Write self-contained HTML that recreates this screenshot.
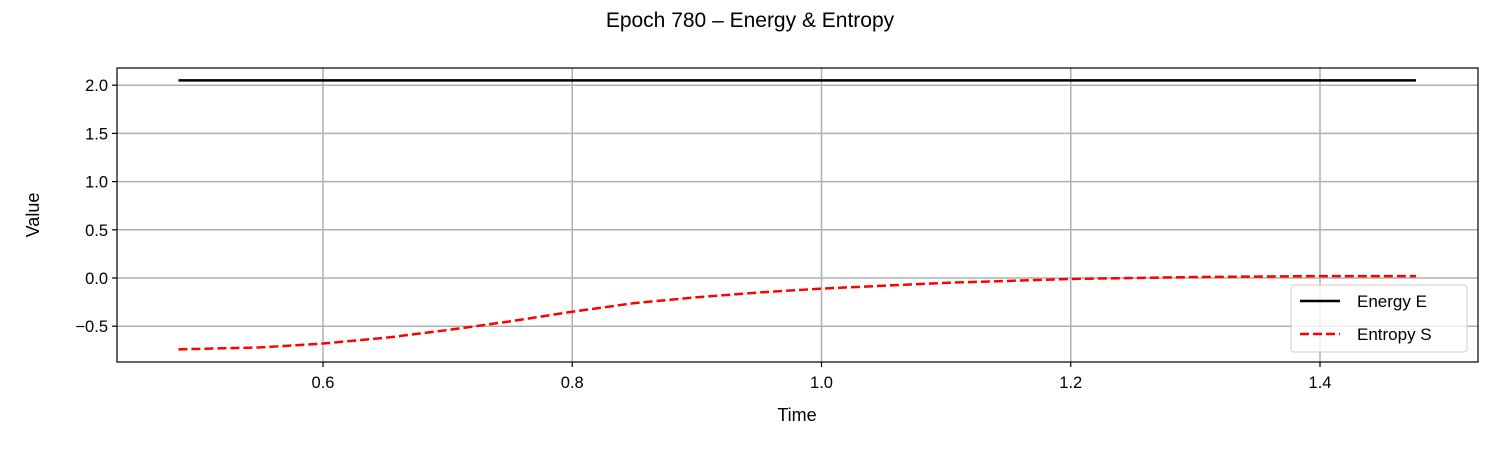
<!DOCTYPE html>
<html><head><meta charset="utf-8"><style>body{margin:0;background:#fff}svg{display:block;font-family:"Liberation Sans","DejaVu Sans",sans-serif}</style></head>
<body>
<svg id="c" width="1500" height="450"></svg>
<script>
const times=[0.484,0.55,0.6,0.65,0.7,0.75,0.8,0.85,0.9,0.95,1.0,1.1,1.2,1.3,1.4,1.477];
const energy=[2.05,2.05,2.05,2.05,2.05,2.05,2.05,2.05,2.05,2.05,2.05,2.05,2.05,2.05,2.05,2.05];
const entropy=[-0.74,-0.72,-0.68,-0.62,-0.54,-0.45,-0.35,-0.26,-0.20,-0.15,-0.11,-0.05,-0.01,0.01,0.02,0.02];
const xTicks=[0.6,0.8,1.0,1.2,1.4];
const yTicks=[-0.5,0.0,0.5,1.0,1.5,2.0];
const L=117,R=1478,T=68,B=362;
const sx=t=>323+(t-0.6)*1246.25;
const sy=v=>278-v*96.4;
const svg=document.getElementById('c');
const NS='http://www.w3.org/2000/svg';
function el(tag,attrs,name,text){const e=document.createElementNS(NS,tag);for(const k in attrs)e.setAttribute(k,attrs[k]);


if(text!==undefined)e.textContent=text;svg.appendChild(e);return e;}
el('text',{x:750,y:27,'text-anchor':'middle','font-size':21},'chart-title','Epoch 780 – Energy & Entropy');
xTicks.forEach(t=>{const x=sx(t);el('line',{x1:x,x2:x,y1:T,y2:B,stroke:'#b0b0b0','stroke-width':1.5},'x-grid');
el('line',{x1:x,x2:x,y1:B,y2:B+5,stroke:'#000','stroke-width':1.2},'x-tick');
el('text',{x:x,y:B+26,'text-anchor':'middle','font-size':16.5},'x-tick-label',t.toFixed(1));});
yTicks.forEach(v=>{const y=sy(v);el('line',{x1:L,x2:R,y1:y,y2:y,stroke:'#b0b0b0','stroke-width':1.5},'y-grid');
el('line',{x1:L-5,x2:L,y1:y,y2:y,stroke:'#000','stroke-width':1.2},'y-tick');
el('text',{x:L-9,y:y+6,'text-anchor':'end','font-size':16.5},'y-tick-label',(v<0?'−':'')+Math.abs(v).toFixed(1));});
el('polyline',{points:times.map((t,i)=>sx(t)+','+sy(energy[i])).join(' '),fill:'none',stroke:'#000','stroke-width':2.5},'energy-line');
el('polyline',{points:times.map((t,i)=>sx(t)+','+sy(entropy[i])).join(' '),fill:'none',stroke:'#ff0000','stroke-width':2.5,'stroke-dasharray':'9,4'},'entropy-line');
el('rect',{x:L,y:T,width:R-L,height:B-T,fill:'none',stroke:'#000','stroke-width':1.2},'plot-frame');
el('text',{x:797,y:421,'text-anchor':'middle','font-size':18},'x-axis-title','Time');
el('text',{x:39,y:215,'text-anchor':'middle','font-size':18,transform:'rotate(-90 39 215)'},'y-axis-title','Value');
el('rect',{x:1291,y:285,width:176,height:67,rx:3,fill:'#fff','fill-opacity':0.8,stroke:'#ccc'},'legend-box');
el('line',{x1:1300,x2:1340,y1:301,y2:301,stroke:'#000','stroke-width':2.5},'legend-energy-swatch');
el('text',{x:1357,y:307,'font-size':17},'legend-energy-label','Energy E');
el('line',{x1:1300,x2:1340,y1:334,y2:334,stroke:'#ff0000','stroke-width':2.5,'stroke-dasharray':'9,4'},'legend-entropy-swatch');
el('text',{x:1357,y:340,'font-size':17},'legend-entropy-label','Entropy S');
</script>
</body></html>
